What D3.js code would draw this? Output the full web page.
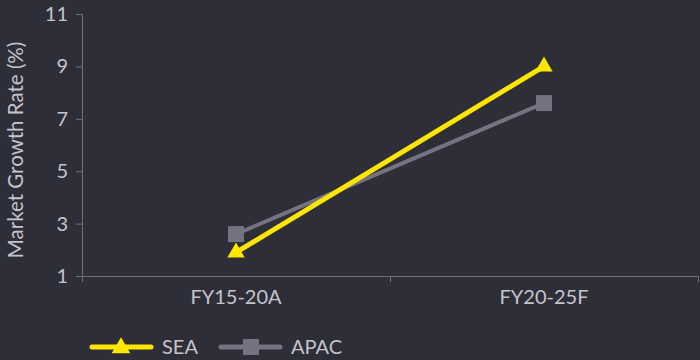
<!DOCTYPE html>
<html>
<head>
<meta charset="utf-8">
<script src="https://cdn.jsdelivr.net/npm/d3@7"></script>
<style>
  html, body { margin: 0; padding: 0; background: #2e2e38; }
  svg { display: block; }
  text { font-family: Lato, "Noto Sans", sans-serif; fill: #c4c4cd; }
</style>
</head>
<body>
<script>
// chart data
const categories = ['FY15-20A', 'FY20-25F'];
const seaValues = [1.9, 9.0];
const apacValues = [2.6, 7.6];
const yTicks = [1, 3, 5, 7, 9, 11];
const seriesNames = ['SEA', 'APAC'];

const width = 700, height = 360;
const axisColor = '#6f6f79';

const svg = d3.select('body').append('svg')
  .attr('width', width)
  .attr('height', height);

svg.append('rect').attr('width', width).attr('height', height).attr('fill', '#2e2e38');

const xScale = d3.scaleBand().domain(categories).range([82, 698]);
const yScale = d3.scaleLinear().domain([1, 11]).range([276, 14]);

// y axis
const gY = svg.append('g')
  .attr('transform', 'translate(82,0)')
  .call(d3.axisLeft(yScale).tickValues(yTicks).tickSize(6).tickPadding(8).tickFormat(d3.format('d')));
gY.selectAll('path, line').attr('stroke', axisColor);
gY.selectAll('text').style('font-size', '20px').attr('fill', '#c4c4cd');

// x axis tick marks at band edges
const edgeScale = d3.scaleLinear().domain([0, categories.length]).range(xScale.range());
const gXTicks = svg.append('g')
  .attr('transform', 'translate(0,276)')
  .call(d3.axisBottom(edgeScale).tickValues(d3.range(categories.length + 1)).tickSize(6).tickFormat(''));
gXTicks.selectAll('path, line').attr('stroke', axisColor);

// x axis labels
const gX = svg.append('g')
  .attr('transform', 'translate(0,276)')
  .call(d3.axisBottom(xScale).tickSize(0).tickPadding(14));
gX.select('.domain').remove();
gX.selectAll('text').style('font-size', '20px').attr('fill', '#c4c4cd');

// y title
svg.append('text')
  .attr('transform', 'translate(23,150) rotate(-90)')
  .attr('text-anchor', 'middle')
  .style('font-size', '20.5px')
  .text('Market Growth Rate (%)');

const line = d3.line()
  .x((d, i) => xScale(categories[i]) + xScale.bandwidth() / 2)
  .y(d => yScale(d));

const series = [
  { name: 'APAC', values: apacValues, color: '#747480', width: 4, symbol: d3.symbolSquare, size: 256 },
  { name: 'SEA', values: seaValues, color: '#ffe600', width: 5, symbol: d3.symbolTriangle, size: 130 }
];

series.forEach(s => {
  svg.append('path')
    .datum(s.values)
    .attr('d', line)
    .attr('fill', 'none')
    .attr('stroke', s.color)
    .attr('stroke-width', s.width);
  svg.selectAll(null)
    .data(s.values)
    .enter().append('path')
    .attr('d', d3.symbol(s.symbol, s.size))
    .attr('transform', (d, i) => 'translate(' + (xScale(categories[i]) + xScale.bandwidth() / 2) + ',' + yScale(d) + ')')
    .attr('fill', s.color);
});

// legend
const legendX = [92, 221];
seriesNames.forEach((name, i) => {
  const s = series.find(d => d.name === name);
  const g = svg.append('g').attr('transform', 'translate(' + legendX[i] + ',347)');
  g.append('line')
    .attr('x1', 0).attr('x2', 59)
    .attr('stroke', s.color)
    .attr('stroke-width', 5)
    .attr('stroke-linecap', 'round');
  g.append('path')
    .attr('d', d3.symbol(s.symbol, s.name === 'SEA' ? 150 : 256))
    .attr('transform', 'translate(' + (s.name === 'SEA' ? 29 : 30) + ',' + (s.name === 'SEA' ? 1 : 0) + ')')
    .attr('fill', s.color);
  g.append('text')
    .attr('x', 70)
    .attr('y', 7)
    .style('font-size', '20px')
    .text(name);
});
</script>
</body>
</html>
